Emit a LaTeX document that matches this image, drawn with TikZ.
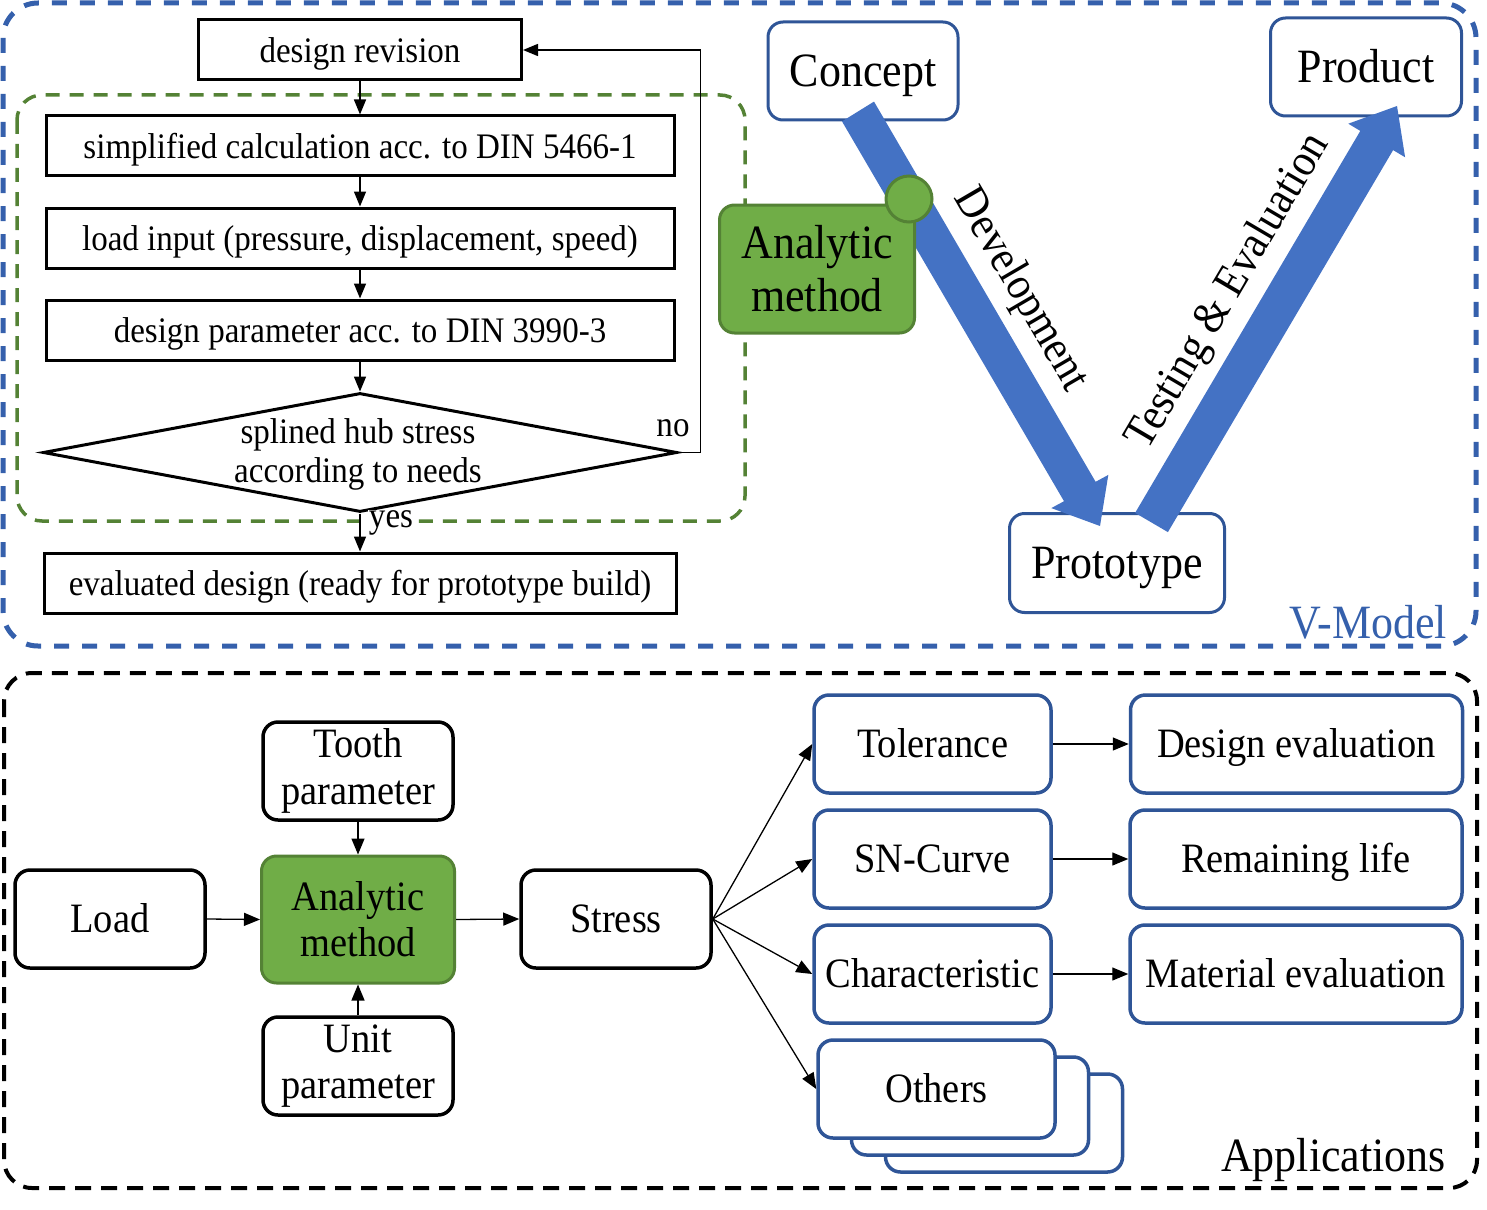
\documentclass[tikz,border=0pt]{standalone}
\usepackage{fontspec}
\setmainfont{Liberation Serif}[FakeStretch=0.92]
\usetikzlibrary{arrows.meta,shapes.geometric}
\definecolor{frameblue}{HTML}{3560AC}
\definecolor{boxblue}{HTML}{2F5597}
\definecolor{arrowblue}{HTML}{4472C4}
\definecolor{gfill}{HTML}{70AD47}
\definecolor{gdraw}{HTML}{548235}
\newcommand{\flowfont}{\fontsize{35.9}{39}\selectfont}
\newcommand{\appfont}{\fontsize{41.8}{46.2}\selectfont}
\newcommand{\vfont}{\fontsize{47.8}{52.8}\selectfont}
\newcommand{\arrfont}{\fontsize{45.6}{50}\selectfont}
\begin{document}
\begin{tikzpicture}[x=1pt,y=-1pt,
  flowbox/.style={draw, line width=3pt, minimum width=628pt, minimum height=60pt, inner sep=0pt, font=\flowfont, fill=white, text height=32.5pt, text depth=7.8pt},
  rbox/.style={draw, line width=3.5pt, rounded corners=15pt, minimum width=190pt, minimum height=98pt, inner sep=0pt, align=center, font=\appfont, fill=white},
  one/.style={text height=36pt, text depth=9pt},
  bbox/.style={rbox, draw=boxblue, minimum width=237pt},
  gbox/.style={rbox, fill=gfill, draw=gdraw, line width=3pt},
  vbox/.style={draw=boxblue, line width=3pt, rounded corners=15pt, fill=white, font=\vfont, inner sep=0pt, text height=40.6pt, text depth=10.4pt},
  farr/.style={-{Triangle[length=15pt,width=12pt]}, line width=1.5pt},
  barr/.style={-{Triangle[length=16pt,width=13pt]}, line width=1.3pt},
  lbl/.style={inner sep=0pt}]
\useasboundingbox (0,0) rectangle (1487,1209);

% frames
\draw[frameblue, line width=5pt, dash pattern=on 15pt off 13pt, rounded corners=35pt] (3,3) rectangle (1476,646);
\draw[black, line width=4pt, dash pattern=on 16pt off 10pt, rounded corners=28pt] (4,673) rectangle (1477,1188);
\draw[gdraw, line width=3.5pt, dash pattern=on 14pt off 10pt, rounded corners=25pt] (17,95) rectangle (745,521);

% flowchart
\node[flowbox, minimum width=323pt] (rev) at (360,50) {design revision};
\node[flowbox] (calc) at (360,146) {simplified calculation acc. to DIN 5466-1};
\node[flowbox] (lin) at (360,238) {load input (pressure, displacement, speed)};
\node[flowbox] (par) at (360,330) {design parameter acc. to DIN 3990-3};
\node[diamond, draw, line width=3pt, minimum width=634pt, minimum height=119pt, inner sep=0pt, fill=white] (dia) at (360,452.5) {};
\node[font=\flowfont, align=center, inner sep=0pt] (diat) at (358,454) {splined hub stress\\according to needs};
\node[flowbox, minimum width=632pt] (eval) at (360,583) {evaluated design (ready for prototype build)};

\draw[farr] (rev.south) -- (calc.north);
\draw[farr] (calc.south) -- (lin.north);
\draw[farr] (lin.south) -- (par.north);
\draw[farr] (par.south) -- (dia.north);
\draw[farr] (dia.south) -- (eval.north);
\draw[farr] (dia.east) -- ++(22,0) |- (rev.east);
\node[lbl, font=\flowfont] (no) at (673,428) {no};
\node[font=\flowfont, fill=white, inner sep=1pt] (yes) at (391,523) {yes};

% V-model
\node[vbox, minimum width=190pt, minimum height=98pt] (concept) at (863,71) {Concept};
\node[vbox, minimum width=191pt, minimum height=98pt] (product) at (1366,67) {Product};
\node[vbox, minimum width=215pt, minimum height=99pt] (proto) at (1117,563) {Prototype};
\fill[arrowblue] (874.0,101.6) -- (1095.6,481.8) -- (1108.3,474.9) -- (1100,526) -- (1051.3,508.1) -- (1064.0,501.2) -- (842.0,121.4) -- cycle;
\fill[arrowblue] (1135.1,512.9) -- (1360.3,130.9) -- (1348.3,123.7) -- (1397,106) -- (1405.1,157.3) -- (1393.1,150.1) -- (1167.9,532.1) -- cycle;
\node[gbox, minimum width=195pt, minimum height=128pt, font=\vfont] (anaV) at (817,269) {Analytic\\method};
\node[circle, fill=gfill, draw=gdraw, line width=3pt, minimum size=46pt, inner sep=0pt] (dot) at (909,199) {};
\node[lbl, font=\arrfont, rotate=-59.7] (dev) at (1020,290) {Development};
\node[lbl, font=\arrfont, rotate=59.5] (test) at (1229,292) {Testing \& Evaluation};
\node[lbl, font=\vfont, text=frameblue, anchor=east] (vm) at (1447,622) {V-Model};

% applications
\node[rbox, one] (loadB) at (110,919) {Load};
\node[rbox] (tooth) at (358,771) {Tooth\\parameter};
\node[gbox, minimum width=193pt, minimum height=127pt] (anaB) at (358,919.5) {Analytic\\method};
\node[rbox] (unit) at (358,1066) {Unit\\parameter};
\node[rbox, one] (stress) at (616,919) {Stress};
\node[bbox, one] (tol) at (932.5,744) {Tolerance};
\node[bbox, one] (sn) at (932.5,859) {SN-Curve};
\node[bbox, one] (char) at (932.5,974) {Characteristic};
\node[bbox] (oth3) at (1004,1123) {};
\node[bbox] (oth2) at (970,1106) {};
\node[bbox, one] (oth) at (936.5,1089) {Others};
\node[bbox, one, minimum width=332pt] (deval) at (1296.5,744) {Design evaluation};
\node[bbox, one, minimum width=332pt] (rem) at (1296,859) {Remaining life};
\node[bbox, one, minimum width=332pt] (mat) at (1296,974) {Material evaluation};
\node[lbl, font=\vfont, anchor=east] (apps) at (1446,1160) {Applications};

\draw[barr] (loadB.east) -- (anaB.west);
\draw[barr] (tooth.south) -- (anaB.north);
\draw[barr] (unit.north) -- (anaB.south);
\draw[barr] (anaB.east) -- (stress.west);
\draw[barr] (stress.east) -- (tol.west);
\draw[barr] (stress.east) -- (sn.west);
\draw[barr] (stress.east) -- (char.west);
\draw[barr] (stress.east) -- (oth.west);
\draw[barr] (tol.east) -- (deval.west);
\draw[barr] (sn.east) -- (rem.west);
\draw[barr] (char.east) -- (mat.west);
\end{tikzpicture}
\end{document}
